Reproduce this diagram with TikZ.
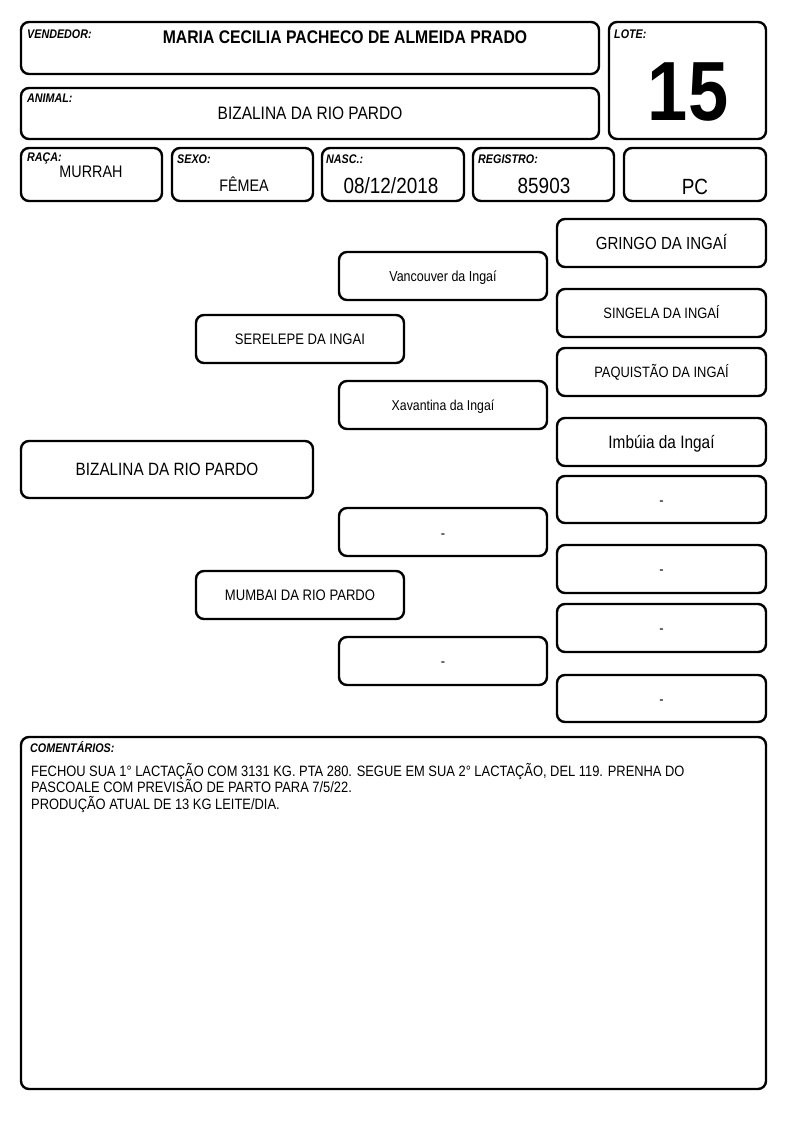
\documentclass[tikz,border=0pt]{standalone}
\usepackage{fontspec}
\setmainfont[FakeStretch=0.86]{Liberation Sans}
\begin{document}
\begin{tikzpicture}[x=1pt,y=-1pt,
  box/.style={draw, line width=2.4pt, rounded corners=8pt, rectangle, inner sep=0pt, outer sep=0pt},
  rc/.style={box, minimum width=209pt, minimum height=48pt},
  mc/.style={box, minimum width=208pt, minimum height=48pt},
  lab/.style={anchor=base west, inner sep=0pt, font=\fontsize{12.5}{14}\selectfont\bfseries\itshape},
  val/.style={inner sep=0pt, font=\fontsize{16.7}{18}\selectfont},
  big/.style={inner sep=0pt, font=\fontsize{22}{24}\selectfont},
  tv/.style={anchor=base, inner sep=0pt, font=\fontsize{15}{17}\selectfont}]
\useasboundingbox (0,0) rectangle (794,1123);
% header boxes
\node[box, minimum width=578pt, minimum height=52pt] (vend) at (310,48) {};
\node[box, minimum width=157pt, minimum height=117pt] (lote) at (687.5,80.5) {};
\node[box, minimum width=578pt, minimum height=51pt] (anim) at (310,113.5) {};
\node[box, minimum width=141pt, minimum height=53pt] (raca) at (91.5,174.5) {};
\node[box, minimum width=141pt, minimum height=53pt] (sexo) at (242.5,174.5) {};
\node[box, minimum width=142pt, minimum height=53pt] (nasc) at (393,174.5) {};
\node[box, minimum width=141pt, minimum height=53pt] (regi) at (543.5,174.5) {};
\node[box, minimum width=142pt, minimum height=53pt] (pc) at (695,174.5) {};
% header texts
\node[lab] (vendl) at (27,39) {VENDEDOR:};
\node[inner sep=0pt, font=\fontsize{18.3}{20}\selectfont\bfseries] (vendv) at (345,37) {MARIA CECILIA PACHECO DE ALMEIDA PRADO};
\node[lab] (lotel) at (614,39) {LOTE:};
\node[inner sep=0pt, font=\fontsize{84}{84}\selectfont\bfseries] (lotev) at (688,92) {15};
\node[lab] (animl) at (27,103) {ANIMAL:};
\node[val, font=\fontsize{18}{20}\selectfont] (animv) at (310,113) {BIZALINA DA RIO PARDO};
\node[lab] (racal) at (27,162) {RAÇA:};
\node[val] (racav) at (91,172) {MURRAH};
\node[lab] (sexol) at (177,164) {SEXO:};
\node[val] (sexov) at (244,184) {FÊMEA};
\node[lab] (nascl) at (326,164) {NASC.:};
\node[big] (nascv) at (391,186) {08/12/2018};
\node[lab] (regil) at (478,164) {REGISTRO:};
\node[big] (regiv) at (544,186) {85903};
\node[big] (pcv) at (695,187) {PC};
% pedigree
\node[rc] (gringo) at (661.5,243) {};
\node[tv, font=\fontsize{17.5}{19}\selectfont] at ([yshift=-6.3pt]gringo.center) {GRINGO DA INGAÍ};
\node[mc] (vanc) at (443,276) {};
\node[tv, font=\fontsize{14.5}{16}\selectfont] at ([yshift=-5.2pt]vanc.center) {Vancouver da Ingaí};
\node[rc] (singela) at (661.5,313) {};
\node[tv] at ([yshift=-5.4pt]singela.center) {SINGELA DA INGAÍ};
\node[mc] (serel) at (300,339) {};
\node[tv, font=\fontsize{15.2}{17}\selectfont] at ([yshift=-5.5pt]serel.center) {SERELEPE DA INGAI};
\node[rc] (paq) at (661.5,372) {};
\node[tv] at ([yshift=-5.4pt]paq.center) {PAQUISTÃO DA INGAÍ};
\node[mc] (xav) at (443,405) {};
\node[tv, font=\fontsize{14.3}{16}\selectfont] at ([yshift=-5.2pt]xav.center) {Xavantina da Ingaí};
\node[rc] (imb) at (661.5,442) {};
\node[tv, font=\fontsize{17.9}{19}\selectfont] at ([yshift=-6.4pt]imb.center) {Imbúia da Ingaí};
\node[box, minimum width=292pt, minimum height=57pt] (biz) at (167,469.5) {};
\node[tv, font=\fontsize{17.8}{19}\selectfont] at ([yshift=-6.4pt]biz.center) {BIZALINA DA RIO PARDO};
\node[rc, minimum height=47pt] (r5) at (661.5,499.5) {};
\node[tv] at ([yshift=-5.5pt]r5.center) {-};
\node[mc] (m3) at (443,532) {};
\node[tv] at ([yshift=-6pt]m3.center) {-};
\node[rc] (r6) at (661.5,569) {};
\node[tv] at ([yshift=-5.5pt]r6.center) {-};
\node[mc] (mumb) at (300,595) {};
\node[tv, font=\fontsize{15.2}{17}\selectfont] at ([yshift=-5.5pt]mumb.center) {MUMBAI DA RIO PARDO};
\node[rc] (r7) at (661.5,628) {};
\node[tv] at ([yshift=-5.5pt]r7.center) {-};
\node[mc] (m4) at (443,661) {};
\node[tv] at ([yshift=-5.5pt]m4.center) {-};
\node[rc, minimum height=47pt] (r8) at (661.5,698.5) {};
\node[tv] at ([yshift=-6pt]r8.center) {-};
% comments
\node[box, minimum width=745pt, minimum height=352pt] (com) at (393.5,913) {};
\node[lab] (coml) at (30,752) {COMENTÁRIOS:};
\node[anchor=north west, inner sep=0pt, align=left, font=\fontsize{15}{16.5}\selectfont] (comv) at (31,763) {FECHOU SUA 1° LACTAÇÃO COM 3131 KG. PTA 280. SEGUE EM SUA 2° LACTAÇÃO, DEL 119. PRENHA DO\\PASCOALE COM PREVISÃO DE PARTO PARA 7/5/22.\\PRODUÇÃO ATUAL DE 13 KG LEITE/DIA.};
\end{tikzpicture}
\end{document}
